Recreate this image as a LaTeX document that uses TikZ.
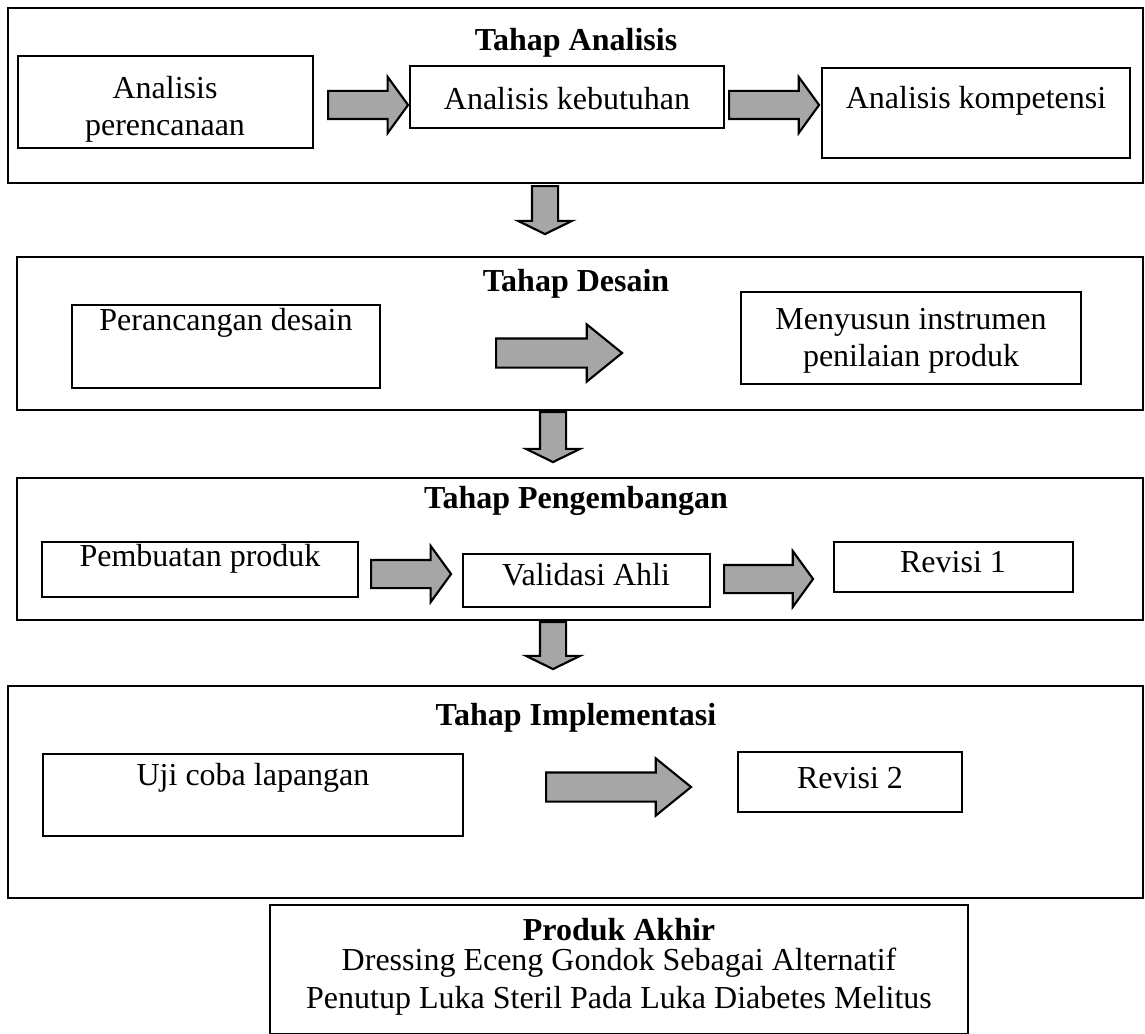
\documentclass[tikz,border=0pt]{standalone}
\usepackage{fontspec}
\setmainfont{Liberation Serif}
\usepackage{tikz}
\usetikzlibrary{shapes.arrows, fit}
\definecolor{arrowgray}{RGB}{166,166,166}
\def\pxu{0.375pt}

\tikzset{
  stage/.style={draw, line width=0.8pt, inner sep=0pt},
  box/.style={draw, line width=0.7pt, inner sep=0pt},
  txt/.style={align=center, font=\fontsize{12}{14}\selectfont, inner sep=0pt},
  ttl/.style={font=\fontsize{12}{14}\selectfont\bfseries, inner sep=0pt},
  blk/.style={single arrow, draw, line width=0.8pt, fill=arrowgray, inner xsep=0pt,
    inner ysep=13*\pxu, minimum width=55*\pxu, single arrow head extend=14*\pxu,
    single arrow tip angle=108, anchor=tail},
  blkbig/.style={blk, inner ysep=13.5*\pxu, minimum width=54*\pxu, single arrow tip angle=78},
  blkdown/.style={blk, inner ysep=12*\pxu, minimum width=54*\pxu,
    single arrow tip angle=128, rotate=-90}
}

\begin{document}
\begin{tikzpicture}[x=0.375pt, y=-0.375pt]
  \useasboundingbox (0,0) rectangle (1145,1034);

  % tahap analisis
  \node[stage, fit={(8,8)(1143,183)}] (analisis) {};
  \node[ttl] (tanalisis) at (576,43) {Tahap Analisis};
  \node[box, fit={(18,56)(313,148)}] (perencanaan) {};
  \node[txt] at (165,109) {Analisis\\perencanaan};
  \node[box, fit={(410,66)(724,128)}] (kebutuhan) {};
  \node[txt] at (567,99) {Analisis kebutuhan};
  \node[box, fit={(822,68)(1130,158)}] (kompetensi) {};
  \node[txt] at (976,101) {Analisis kompetensi};
  \node[blk, minimum height=80*\pxu] (ar1) at (327,105) {};
  \node[blk, minimum height=90*\pxu] (ar2) at (728,105) {};
  \node[blkdown, minimum height=48*\pxu] (down1) at (545,185) {};

  % tahap desain
  \node[stage, fit={(17,257)(1143,410)}] (desain) {};
  \node[ttl] (tdesain) at (576,284) {Tahap Desain};
  \node[box, fit={(72,305)(380,388)}] (rancang) {};
  \node[txt] at (226,323) {Perancangan desain};
  \node[box, fit={(741,292)(1081,384)}] (instrumen) {};
  \node[txt] at (911,341) {Menyusun instrumen\\penilaian produk};
  \node[blkbig, minimum height=126*\pxu] (ar3) at (495,353) {};
  \node[blkdown, minimum height=50*\pxu] (down2) at (553,411) {};

  % tahap pengembangan
  \node[stage, fit={(17,478)(1143,620)}] (kembang) {};
  \node[ttl] (tkembang) at (576,501) {Tahap Pengembangan};
  \node[box, fit={(42,542)(358,597)}] (pembuatan) {};
  \node[txt] at (200,559) {Pembuatan produk};
  \node[box, fit={(463,554)(710,607)}] (validasi) {};
  \node[txt] at (586,575) {Validasi Ahli};
  \node[box, fit={(834,542)(1073,592)}] (revisi1) {};
  \node[txt] at (953,562) {Revisi 1};
  \node[blk, minimum height=80*\pxu] (ar4) at (370,574) {};
  \node[blk, minimum height=89*\pxu] (ar5) at (723,579) {};
  \node[blkdown, minimum height=47*\pxu] (down3) at (553,621) {};

  % tahap implementasi
  \node[stage, fit={(8,686)(1143,898)}] (implementasi) {};
  \node[ttl] (timplementasi) at (576,718) {Tahap Implementasi};
  \node[box, fit={(43,754)(463,836)}] (ujicoba) {};
  \node[txt] at (253,778) {Uji coba lapangan};
  \node[box, fit={(738,752)(962,812)}] (revisi2) {};
  \node[txt] at (850,778) {Revisi 2};
  \node[blkbig, minimum height=145*\pxu] (ar6) at (545,787) {};

  % produk akhir
  \node[stage, fit={(270,905)(968,1034)}] (produk) {};
  \node[ttl] (tproduk) at (619,930) {Produk Akhir};
  \node[txt] (produk1) at (619,963) {Dressing Eceng Gondok Sebagai Alternatif};
  \node[txt] (produk2) at (619,1001) {Penutup Luka Steril Pada Luka Diabetes Melitus};
\end{tikzpicture}
\end{document}
